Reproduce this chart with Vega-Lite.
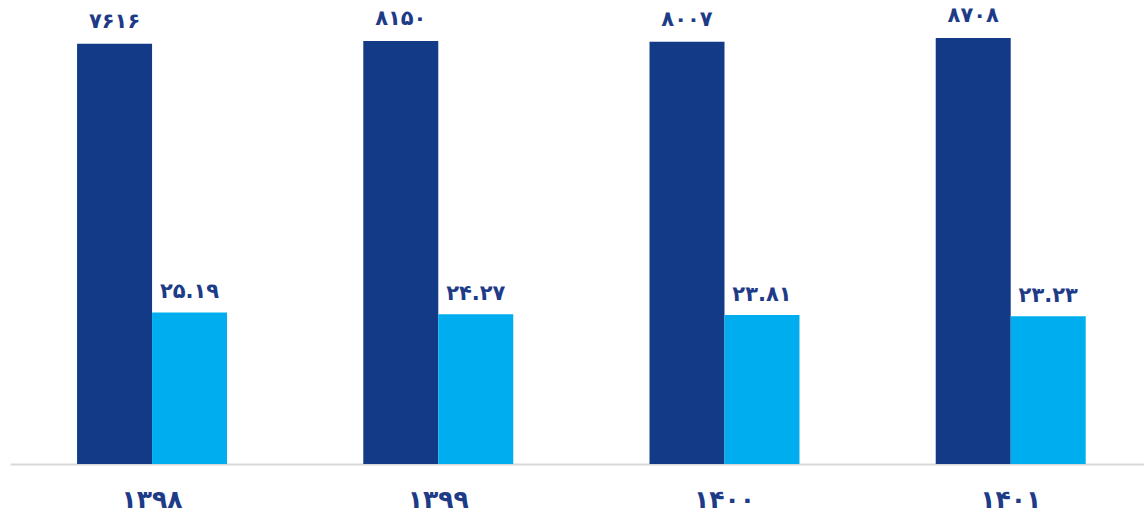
{
  "$schema": "https://vega.github.io/schema/vega-lite/v6.json",
  "width": 1134,
  "height": 464,
  "autosize": {"type": "none"},
  "padding": {"left": 10, "top": 0, "right": 0, "bottom": 51},
  "background": "white",
  "config": {"view": {"stroke": null}},
  "data": {
    "values": [
      {"year": "۱۳۹۸", "series": "count", "value": 7616, "label": "۷۶۱۶"},
      {"year": "۱۳۹۸", "series": "ratio", "value": 25.19, "label": "۲۵.۱۹"},
      {"year": "۱۳۹۹", "series": "count", "value": 8150, "label": "۸۱۵۰"},
      {"year": "۱۳۹۹", "series": "ratio", "value": 24.27, "label": "۲۴.۲۷"},
      {"year": "۱۴۰۰", "series": "count", "value": 8007, "label": "۸۰۰۷"},
      {"year": "۱۴۰۰", "series": "ratio", "value": 23.81, "label": "۲۳.۸۱"},
      {"year": "۱۴۰۱", "series": "count", "value": 8708, "label": "۸۷۰۸"},
      {"year": "۱۴۰۱", "series": "ratio", "value": 23.23, "label": "۲۳.۲۳"}
    ]
  },
  "encoding": {
    "x": {
      "field": "year",
      "type": "nominal",
      "sort": ["۱۳۹۸", "۱۳۹۹", "۱۴۰۰", "۱۴۰۱"],
      "scale": {"paddingInner": 0.476, "paddingOuter": 0.219, "align": 0.535},
      "axis": {
        "title": null,
        "ticks": false,
        "grid": false,
        "labelAngle": 0,
        "domainColor": "#d9d9d9",
        "domainWidth": 2,
        "labelFont": "DejaVu Sans",
        "labelFontWeight": "bold",
        "labelFontSize": 25,
        "labelColor": "#1d3b87",
        "labelBaseline": "middle",
        "labelPadding": 35
      }
    },
    "xOffset": {"field": "series", "type": "nominal", "scale": {"domain": ["count", "ratio"]}}
  },
  "layer": [
    {
      "transform": [{"filter": "datum.series === 'count'"}],
      "encoding": {
        "y": {"field": "value", "type": "quantitative", "scale": {"domain": [-68995, 15615], "nice": false, "zero": false}, "axis": null}
      },
      "layer": [
        {"mark": {"type": "bar", "color": "#133a86"}, "encoding": {"y2": {"datum": -68995}}},
        {
          "mark": {"type": "text", "font": "DejaVu Sans", "fontWeight": "bold", "fontSize": 21, "color": "#1d3b87", "baseline": "alphabetic", "dy": -16},
          "encoding": {"text": {"field": "label"}}
        }
      ]
    },
    {
      "transform": [{"filter": "datum.series === 'ratio'"}],
      "encoding": {
        "y": {"field": "value", "type": "quantitative", "scale": {"domain": [-54.8, 190.1], "nice": false, "zero": false}, "axis": null}
      },
      "layer": [
        {"mark": {"type": "bar", "color": "#00aeef"}, "encoding": {"y2": {"datum": -54.8}}},
        {
          "mark": {"type": "text", "font": "DejaVu Sans", "fontWeight": "bold", "fontSize": 21, "color": "#1d3b87", "baseline": "alphabetic", "dy": -14},
          "encoding": {"text": {"field": "label"}}
        }
      ]
    }
  ],
  "resolve": {"scale": {"y": "independent"}}
}
